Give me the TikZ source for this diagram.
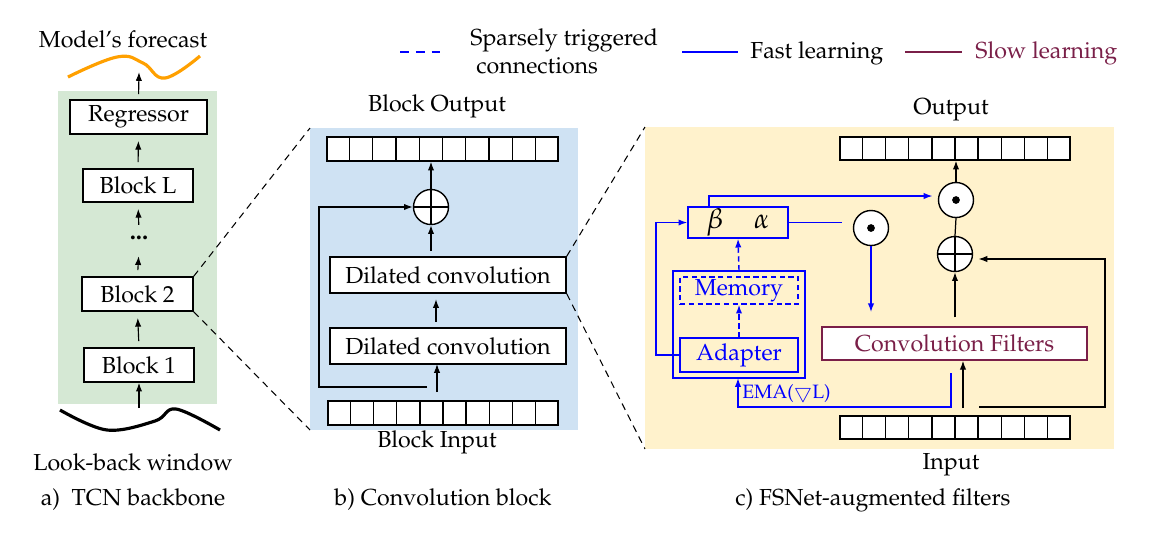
\documentclass[tikz,border=0pt]{standalone}
\usepackage[T1]{fontenc}
\usepackage{mathpazo}
\usetikzlibrary{arrows.meta,fit,calc}
\newdimen\pxu \pxu=0.02cm
\definecolor{bggreen}{HTML}{D5E8D4}
\definecolor{bgblue}{HTML}{CFE2F3}
\definecolor{bgyellow}{HTML}{FFF2CC}
\definecolor{fastblue}{HTML}{0000FF}
\definecolor{slowred}{HTML}{7A1F48}
\definecolor{fcorange}{HTML}{FFA000}
\newcommand\mycells[1]{\foreach \i in {1,...,9}{\draw[line width=0.8pt] ($(#1.north west)!\i/10!(#1.north east)$) -- ($(#1.south west)!\i/10!(#1.south east)$);}}
\begin{document}
\begin{tikzpicture}[x=0.02cm,y=-0.02cm,
  font=\fontsize{13.2}{15}\selectfont,
  box/.style={draw, line width=0.8pt, fill=white, inner sep=0pt},
  bbox/.style={draw=fastblue, line width=0.8pt, inner sep=0pt, text=fastblue},
  arr/.style={-{Latex[length=5pt,width=3.6pt]}, line width=0.65pt},
  barr/.style={-{Latex[length=5pt,width=3.6pt]}, line width=0.8pt, draw=fastblue},
  circ/.style={draw, circle, line width=0.8pt, fill=white, minimum size=35\pxu, inner sep=0pt},
  zoomline/.style={dashed, line width=0.6pt, dash pattern=on 4pt off 3pt},
  lbl/.style={inner sep=0pt},
  gap/.style={shorten <=3.5pt, shorten >=3.5pt}]
\useasboundingbox (0,0) rectangle (1154,539);

% ---------- backgrounds
\fill[bggreen] (58,91) rectangle (217,404);
\fill[bgblue] (310,128) rectangle (578,430);
\fill[bgyellow] (645,127) rectangle (1114,449);

% ---------- legend
\draw[fastblue, line width=1.4pt, dash pattern=on 5pt off 4pt] (400,52) -- (446,52);
\node[lbl, anchor=west] (lg1) at (470,40) {Sparsely triggered};
\node[lbl, anchor=west] (lg2) at (476,66) {connections};
\draw[fastblue, line width=1.6pt] (682,52) -- (738,52);
\node[lbl, anchor=west] (lg3) at (750,53) {Fast learning};
\draw[slowred, line width=1.6pt] (905,52) -- (962,52);
\node[lbl, anchor=west, text=slowred] (lg4) at (975,53) {Slow learning};

% ---------- panel a
\node[lbl] (mf) at (123,39) {Model's forecast};
\draw[fcorange, line width=1.8pt] plot[smooth, tension=0.7] coordinates {(68,77)(117,57)(143,63)(165,78)(200,56)};
\node[box, fit={(70,100)(207,134)}] (reg) {};
\node at (reg.center) {Regressor};
\node[box, fit={(83,169)(193,202)}] (bL) {};
\node at (bL.center) {Block L};
\node[lbl, font=\fontsize{14}{14}\bfseries] (dots) at (139,238) {...};
\node[box, fit={(82,277)(193,311)}] (b2) {};
\node at (b2.center) {Block 2};
\node[box, fit={(84,348)(194,382)}] (b1) {};
\node at (b1.center) {Block 1};
\draw[black, line width=1.8pt] plot[smooth, tension=0.6] coordinates {(60,410)(107,430)(155,421)(176,409)(220,430)};
\coordinate (ain) at (139,408);
\coordinate (aout) at (139,72);
\draw[arr] (ain) -- (b1.south);
\draw[arr, gap] (b1.north) -- (b2.south);
\draw[arr, gap] (b2.north) -- (139,250);
\draw[arr, gap] (139,231) -- (bL.south);
\draw[arr, gap] (bL.north) -- (reg.south);
\draw[arr, shorten <=3pt] (reg.north) -- (aout);
\node[lbl] (lbw) at (133,462) {Look-back window};
\node[lbl] (capa) at (133,500) {a)\ \ TCN backbone};

% ---------- panel b
\node[lbl] (bot) at (437,106) {Block Output};
\node[box, fit={(327,137)(558,161)}] (bo) {};
\mycells{bo}
\node[circ] (pb) at (431,207) {};
\draw[line width=0.8pt] (pb.north) -- (pb.south) (pb.west) -- (pb.east);
\node[box, fit={(330,257)(566,293)}] (dc2) {};
\node at (dc2.center) {Dilated convolution};
\node[box, fit={(330,328)(566,364)}] (dc1) {};
\node at (dc1.center) {Dilated convolution};
\node[box, fit={(328,401)(558,425)}] (bi) {};
\mycells{bi}
\node[lbl] (bin) at (437,442) {Block Input};
\draw[arr] (pb.north) -- (pb.north |- bo.south);
\draw[arr, shorten <=3pt] (pb.south |- dc2.north) -- (pb.south);
\draw[arr, gap] (436,328) -- (436,293);
\draw[arr, shorten <=5pt] (437,401) -- (437,364);
\coordinate (sk) at (427,387);
\draw[arr] (sk) -| (319,207) -- (pb.west);
\node[lbl] (capb) at (443,500) {b) Convolution block};

% ---------- zoom lines
\draw[zoomline] (b2.north east) -- (310,128);
\draw[zoomline] (b2.south east) -- (310,430);
\draw[zoomline] (dc2.north east) -- (645,127);
\draw[zoomline] (dc2.south east) -- (645,449);

% ---------- panel c
\node[lbl] (cout) at (951,110) {Output};
\node[box, fit={(840,137)(1070,160)}] (co) {};
\mycells{co}
\node[circ] (od1) at (956,200) {};
\fill (od1.center) circle (2.2pt);
\node[circ] (op) at (955,254) {};
\draw[line width=0.8pt] (op.north) -- (op.south) (op.west) -- (op.east);
\node[draw=slowred, line width=0.9pt, fill=white, inner sep=0pt, fit={(822,327)(1087,360)}] (cf) {};
\node[text=slowred] at (cf.center) {Convolution Filters};
\node[box, fit={(840,416)(1070,439)}] (ci) {};
\mycells{ci}
\node[lbl] (cin) at (951,465) {Input};

\node[bbox, fit={(688,207)(788,238)}] (ab) {};
\node[font=\fontsize{16}{16}\selectfont] at (ab.center) {$\beta\hspace{1.1em}\alpha$};
\node[circ] (od2) at (871,228) {};
\fill (od2.center) circle (2.2pt);
\node[bbox, fit={(673,271)(805,378)}] (grp) {};
\node[bbox, dashed, dash pattern=on 3pt off 2pt, fit={(680,277)(798,304)}] (mem) {};
\node[text=fastblue] at (mem.center) {Memory};
\node[bbox, fit={(680,338)(798,372)}] (ad) {};
\node[text=fastblue] at (ad.center) {Adapter};

% black connectors
\draw[line width=0.7pt] (op.north) -- (od1.south);
\draw[arr] (od1.north) -- (od1.north |- co.south);
\draw[arr, shorten <=5pt] (op.south |- cf.north) -- (op.south);
\coordinate (cin1) at (963,408);
\draw[arr] (cin1) -- (cin1 |- cf.south);
\coordinate (lp) at (979,407);
\draw[arr, shorten >=3pt] (lp) -- (1105,407) -- (1105,259) -- (op.east |- 0,259);

% blue connectors
\coordinate (ema) at (951,373);
\draw[barr] (ema) -- (951,407) -- (738,407) -- (738 ,378);
\node[lbl, anchor=west, text=fastblue, font=\fontsize{11}{12}\selectfont] (emal) at (742,394) {EMA($\bigtriangledown$L)};
\draw[barr, dashed, dash pattern=on 3pt off 2pt] (ad.north) -- (mem.south);
\draw[barr, dashed, dash pattern=on 3pt off 2pt] (grp.north) -- (ab.south);
\draw[barr] (ad.west) -- (656,355) |- (ab.west);
\draw[barr, shorten >=3pt] (709,207) -- (709,196) -- (od1.west |- 0,196);
\draw[fastblue, line width=0.8pt, shorten >=6pt] (ab.east) -- (ab.east -| od2.west);
\draw[barr, shorten >=14\pxu] (od2.south) -- (od2.south |- cf.north);
\node[lbl] (capc) at (873,500) {c) FSNet-augmented filters};
\end{tikzpicture}
\end{document}
